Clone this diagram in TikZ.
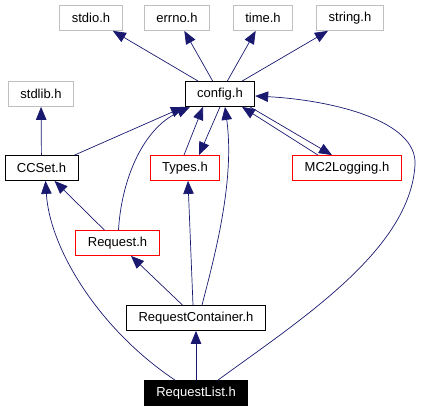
\documentclass[tikz,border=0pt]{standalone}
\usepackage{xcolor}
\usepackage{fontspec}
\usepackage{tikz}
\usetikzlibrary{arrows.meta,positioning}
\setmainfont{Liberation Sans}
\definecolor{edgeblue}{HTML}{191970}
\definecolor{sysgray}{HTML}{BFBFBF}

\begin{document}
\begin{tikzpicture}[x=1pt, y=-1pt,
        file/.style={draw=black, line width=0.8pt, rectangle, minimum height=25pt,
                     inner xsep=12pt, inner ysep=0pt, font=\fontsize{13}{15}\selectfont},
        sys/.style={file, draw=sysgray},
        part/.style={file, draw=red},
        main/.style={file, fill=black, text=white},
        edge/.style={draw=edgeblue, line width=0.7pt, -{Triangle[length=13pt,width=10.5pt]}}]
        \useasboundingbox (0,0) rectangle (421,411);
        \node[sys] (Stdio) at (91,18) {stdio.h};
        \node[sys] (Errno) at (177,18) {errno.h};
        \node[sys] (Time) at (263,18) {time.h};
        \node[sys] (String) at (350,18) {string.h};
        \node[sys] (Stdlib) at (41,94) {stdlib.h};
        \node[file] (Config) at (220,94) {config.h};
        \node[file] (CCSet) at (41.5,168) {CCSet.h};
        \node[part] (Types) at (185,168) {Types.h};
        \node[part] (Logging) at (347,168) {MC2Logging.h};
        \node[part] (Request) at (117.5,243) {Request.h};
        \node[file] (Container) at (196,318) {RequestContainer.h};
        \node[main] (List) at (196,393) {RequestList.h};
        \draw[edge] (Config) -- (Stdio);
        \draw[edge] (Config) -- (Errno);
        \draw[edge] (Config) -- (Time);
        \draw[edge] (Config) -- (String);
        \draw[edge] (CCSet) -- (Stdlib);
        \draw[edge] ([xshift=33pt]CCSet.north) -- ([xshift=-36pt]Config.south);
        \draw[edge] ([xshift=-1pt]Types.north) -- ([xshift=-17pt]Config.south);
        \draw[edge] (Config.south) -- ([xshift=14pt]Types.north);
        \draw[edge] ([xshift=-29pt]Logging.north) -- ([xshift=22pt]Config.south);
        \draw[edge] ([xshift=30pt]Config.south) -- ([xshift=-15pt]Logging.north);
        \draw[edge] (Request) -- (CCSet);
        \draw[edge] ([xshift=1pt]Request.north) .. controls (121,185) and (140,130) .. ([xshift=-30pt]Config.south);
        \draw[edge] ([xshift=-3pt]Container.north) -- ([xshift=3pt]Types.south);
        \draw[edge] (Container) -- (Request);
        \draw[edge] ([xshift=6pt]Container.north) .. controls (215,255) and (235,180) .. ([xshift=5pt]Config.south);
        \draw[edge] (List) -- (Container);
        \draw[edge] ([xshift=-21pt]List.north) .. controls (100,330) and (50,250) .. ([xshift=4pt]CCSet.south);
        \draw[edge] ([xshift=22pt]List.north) .. controls (300,320) and (410,250) .. (415,165)
                .. controls (418,120) and (330,100) .. ([yshift=-2pt]Config.east);
\end{tikzpicture}
\end{document}
